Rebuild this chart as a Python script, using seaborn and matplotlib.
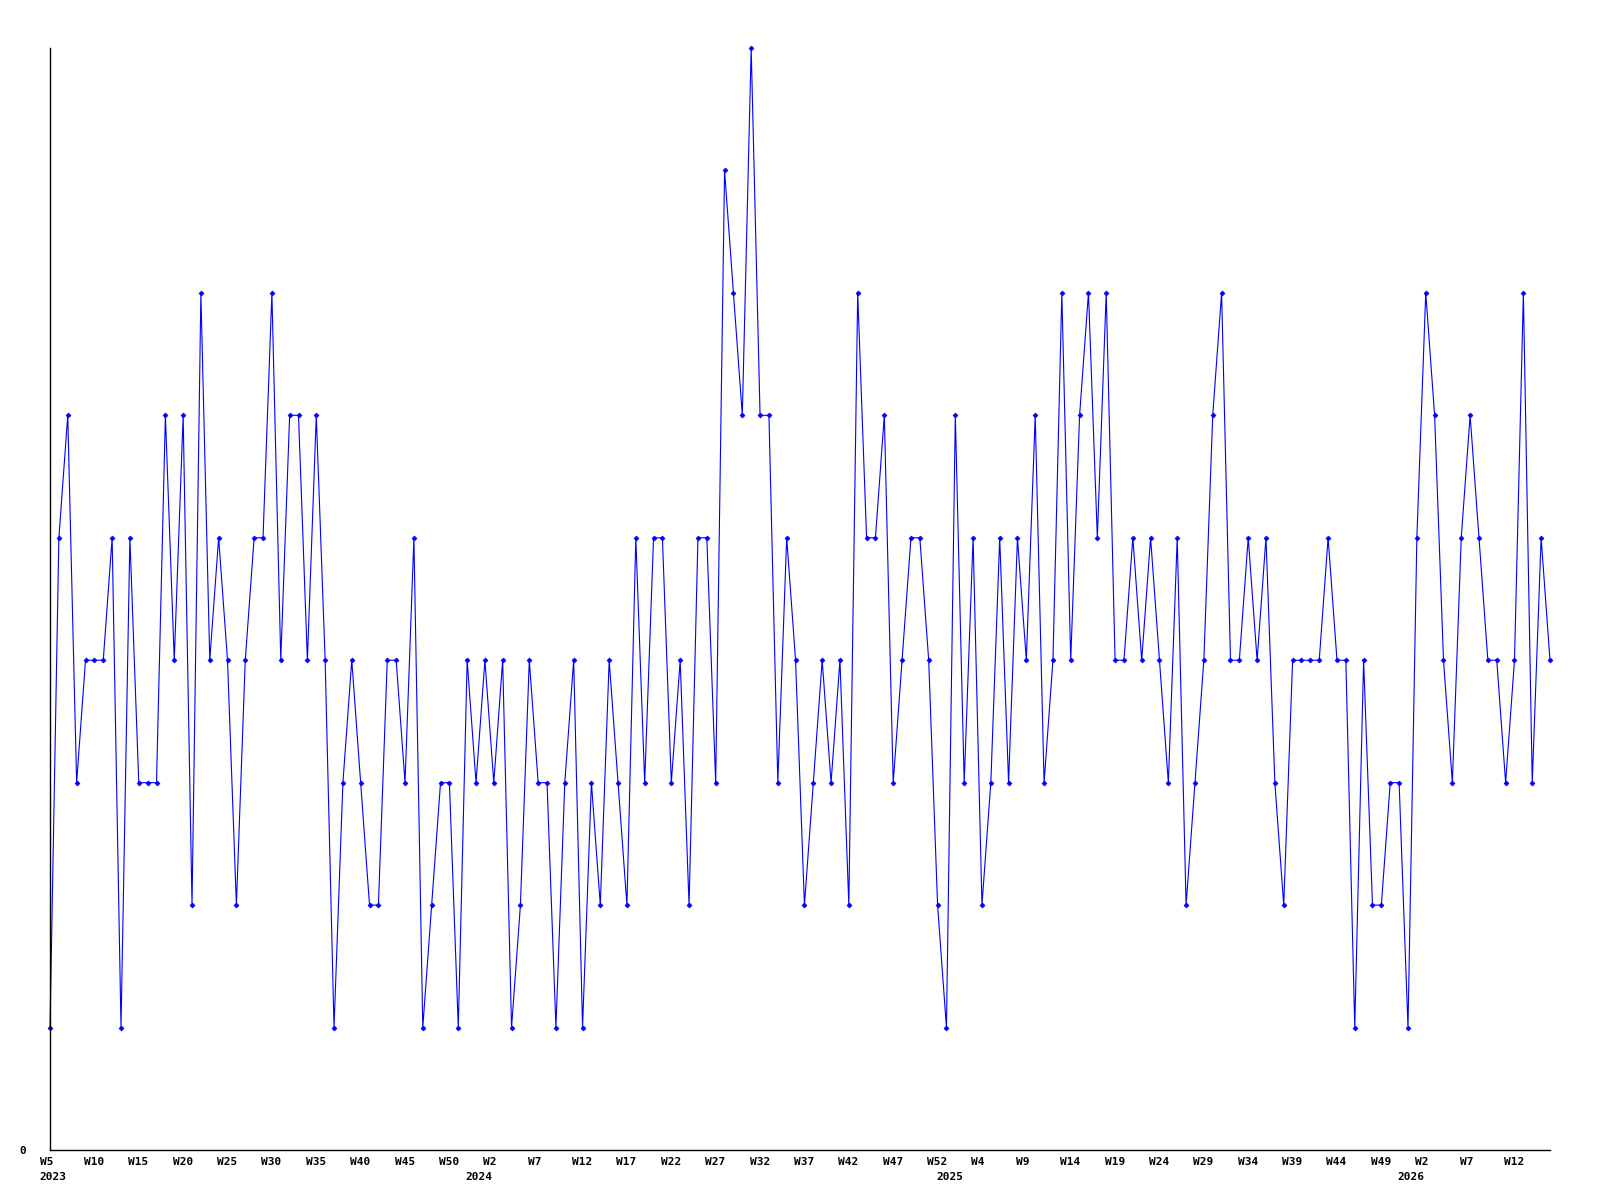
import matplotlib
matplotlib.use("Agg")
import matplotlib.pyplot as plt
import seaborn as sns
import numpy as np
import pandas as pd
from matplotlib.transforms import ScaledTranslation

# ---- data (weekly counts, W5 2023 .. W16 2026) ----
values = [
    1, 5, 6, 3, 4, 4, 4, 5, 1, 5, 3, 3, 3, 6, 4, 6, 2, 7, 4, 5, 4, 2, 4, 5, 5, 7, 4, 6, 6, 4,
    6, 4, 1, 3, 4, 3, 2, 2, 4, 4, 3, 5, 1, 2, 3, 3, 1, 4, 3, 4, 3, 4, 1, 2, 4, 3, 3, 1, 3, 4,
    1, 3, 2, 4, 3, 2, 5, 3, 5, 5, 3, 4, 2, 5, 5, 3, 8, 7, 6, 9, 6, 6, 3, 5, 4, 2, 3, 4, 3, 4,
    2, 7, 5, 5, 6, 3, 4, 5, 5, 4, 2, 1, 6, 3, 5, 2, 3, 5, 3, 5, 4, 6, 3, 4, 7, 4, 6, 7, 5, 7,
    4, 4, 5, 4, 5, 4, 3, 5, 2, 3, 4, 6, 7, 4, 4, 5, 4, 5, 3, 2, 4, 4, 4, 4, 5, 4, 4, 1, 4, 2,
    2, 3, 3, 1, 5, 7, 6, 4, 3, 5, 6, 5, 4, 4, 3, 4, 7, 3, 5, 4,
]

week_labels = (
    ["W5", "W10", "W15", "W20", "W25", "W30", "W35", "W40", "W45", "W50"]
    + ["W2", "W7", "W12", "W17", "W22", "W27", "W32", "W37", "W42", "W47", "W52"]
    + ["W4", "W9", "W14", "W19", "W24", "W29", "W34", "W39", "W44", "W49"]
    + ["W2", "W7", "W12"]
)
year_labels = ["2023", "2024", "2025", "2026"]
year_start_week_index = [0, 48, 101, 153]

# ---- plot ----
sns.set_theme(style="white")
plt.rcParams["font.family"] = ["DejaVu Sans Mono", "DejaVu Sans"]

fig = plt.figure(figsize=(16, 12), dpi=100)
ax = fig.add_axes([50 / 1600, 50 / 1200, 1500 / 1600, 1102 / 1200])

df = pd.DataFrame({"week": np.arange(len(values)), "count": values})
sns.lineplot(
    data=df, x="week", y="count", ax=ax,
    color="#0000ff", linewidth=0.8,
    marker="D", markersize=2.6, markeredgewidth=0.4, markeredgecolor="#0000ff",
    clip_on=False,
)

ax.set_xlim(0, len(values) - 1)
ax.set_ylim(0, 9)
ax.set_xlabel("")
ax.set_ylabel("")

ax.xaxis.remove_overlapping_locs = False
ax.set_xticks(np.arange(0, len(values), 5)[: len(week_labels)])
ax.set_xticklabels(week_labels)
ax.set_xticks(year_start_week_index, minor=True)
ax.set_xticklabels(year_labels, minor=True)
ax.set_yticks([0])
ax.set_yticklabels(["0"])

ax.tick_params(axis="x", which="both", length=0, colors="black")
ax.tick_params(axis="x", which="major", pad=5)
ax.tick_params(axis="x", which="minor", pad=16)
ax.tick_params(axis="y", length=0, pad=17, colors="black")

shift = ScaledTranslation(-10.5 / 100, 0, fig.dpi_scale_trans)
for lab in ax.get_xticklabels(which="both"):
    lab.set_ha("left")
    lab.set_transform(lab.get_transform() + shift)
    lab.set_fontweight("bold")
    lab.set_fontsize(8)
for lab in ax.get_yticklabels():
    lab.set_fontweight("bold")
    lab.set_fontsize(8)

for side in ["top", "right"]:
    ax.spines[side].set_visible(False)
for side in ["left", "bottom"]:
    ax.spines[side].set_color("black")
    ax.spines[side].set_linewidth(1.0)

fig.savefig("out.png", dpi=100)
